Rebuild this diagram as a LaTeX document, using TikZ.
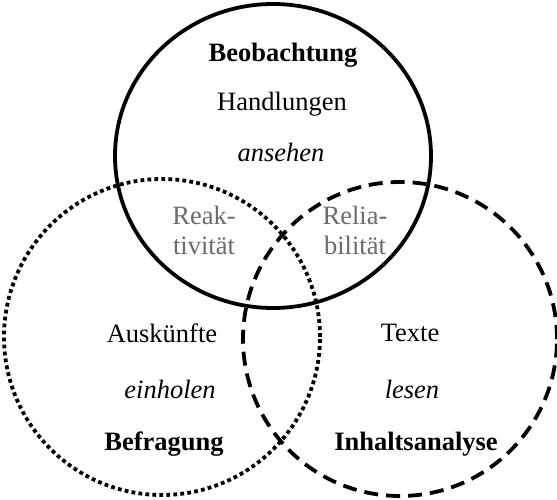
\documentclass[tikz,border=0pt]{standalone}
\usepackage{fontspec}
\setmainfont{Liberation Serif}
\usetikzlibrary{shapes.geometric}
\begin{document}
\begin{tikzpicture}[x=1pt,y=-1pt,
  ring/.style={inner sep=0pt, outer sep=0pt, line width=3.8pt},
  lbl/.style={font=\fontsize{26.5}{30}\selectfont, inner sep=0pt, align=center},
  grey/.style={lbl, text=black!58}]
\useasboundingbox (0,0) rectangle (557,500);
\node[ring, draw, ellipse, minimum width=316pt, minimum height=304pt] (top) at (273,156) {};
\node[ring, draw, circle, minimum size=316pt, dash pattern=on 3.8pt off 3.2pt] (left) at (162,337) {};
\node[ring, draw, circle, minimum size=314pt, dash pattern=on 14pt off 8pt] (right) at (400,339) {};
\node[lbl, font=\fontsize{26.5}{30}\selectfont\bfseries] (beo) at (283,55) {Beobachtung};
\node[lbl] (hand) at (282,104) {Handlungen};
\node[lbl, font=\fontsize{26.5}{30}\selectfont\itshape] (ans) at (281,152) {ansehen};
\node[grey] (reak) at (204,230) {Reak-\\tivität};
\node[grey] (rel) at (355,230) {Relia-\\bilität};
\node[lbl] (ausk) at (162,333) {Auskünfte};
\node[lbl, font=\fontsize{26.5}{30}\selectfont\itshape] (einh) at (170,389) {einholen};
\node[lbl, font=\fontsize{26.5}{30}\selectfont\bfseries] (bef) at (164,444) {Befragung};
\node[lbl] (texte) at (410,333) {Texte};
\node[lbl, font=\fontsize{26.5}{30}\selectfont\itshape] (les) at (412,389) {lesen};
\node[lbl, font=\fontsize{26.5}{30}\selectfont\bfseries] (inh) at (416,444) {Inhaltsanalyse};
\end{tikzpicture}
\end{document}
